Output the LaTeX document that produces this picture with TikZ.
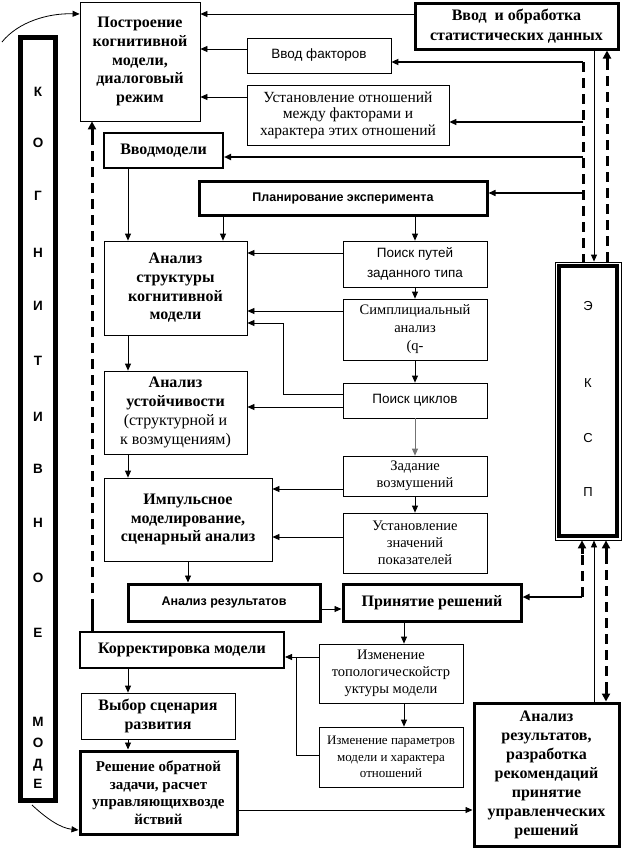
\documentclass[tikz,border=0pt]{standalone}
\usepackage{fontspec}
\setmainfont{Liberation Serif}
\setsansfont{Liberation Sans}
\usetikzlibrary{arrows.meta,calc}
\newcommand{\hbf}{\fontsize{16}{18.7}\selectfont\bfseries}
\newcommand{\hbs}{\fontsize{15}{17.5}\selectfont\bfseries}
\newcommand{\srg}{\fontsize{14.5}{17}\selectfont}
\newcommand{\srs}{\fontsize{13}{16.5}\selectfont}
\newcommand{\sfr}{\fontsize{13.5}{20}\selectfont\sffamily}
\newcommand{\sfb}{\fontsize{12.5}{15}\selectfont\sffamily\bfseries}
\begin{document}
\begin{tikzpicture}[x=1pt,y=-1pt,line width=0.8pt,
  bx/.style n args={2}{draw,line width=0.8pt,align=center,inner sep=0pt,minimum width=#1,minimum height=#2},
  medb/.style={line width=2pt},
  thkb/.style={line width=3pt},
  arr/.style={-{Triangle[length=7pt,width=6pt]}},
  tarr/.style={line width=3pt,-{Triangle[length=8pt,width=8pt]}},
  dsh/.style={line width=3pt,dash pattern=on 10pt off 6pt},
  letl/.style={font=\fontsize{13.5}{13.5}\selectfont\sffamily\bfseries,inner sep=0pt},
  lete/.style={font=\fontsize{13}{13}\selectfont\sffamily,inner sep=0pt}]
\useasboundingbox[fill=white] (0,0) rectangle (622,849);

% nodes
\node[bx={120pt}{119pt},font=\hbf] (bld) at (140,61.5) {Построение\\когнитивной\\модели,\\диалоговый\\режим};
\node[bx={203pt}{46pt},thkb,font=\fontsize{16}{20}\selectfont\bfseries] (stat) at (516.5,26) {Ввод~ и обработка\\статистических данных};
\node[bx={144pt}{35pt},font=\sfr] (fact) at (319,55.5) {Ввод факторов};
\node[bx={202pt}{60pt},font=\fontsize{15.5}{16.5}\selectfont] (rel) at (348,115) {Установление отношений\\между факторами и\\характера этих отношений};
\node[bx={119pt}{35pt},medb,font=\hbf] (vvod) at (163.5,150.5) {Вводмодели};
\node[bx={288pt}{34pt},thkb,font=\sfb] (plan) at (343,198) {Планирование эксперимента};
\node[bx={143pt}{94pt},font=\hbf] (astr) at (175.5,288) {Анализ\\структуры\\когнитивной\\модели};
\node[bx={144pt}{46pt},font=\sfr] (paths) at (415,264) {Поиск путей\\заданного типа};
\node[bx={144pt}{61pt},font=\fontsize{14.5}{18}\selectfont] (simp) at (415,329.5) {Симплициальный\\анализ\\(q-};
\node[bx={144pt}{35pt},font=\sfr] (cyc) at (415,400.5) {Поиск циклов};
\node[bx={143pt}{83pt},font=\fontsize{16}{19}\selectfont] (ust) at (175.5,412.5) {\textbf{Анализ}\\\textbf{устойчивости}\\(структурной и\\к возмущениям)};
\node[bx={144pt}{40pt},font=\srg] (pert) at (415,476) {Задание\\возмушений};
\node[bx={168pt}{83pt},font=\hbf] (imp) at (188,519.5) {Импульсное\\моделирование,\\сценарный анализ};
\node[bx={144pt}{60pt},font=\srg] (vals) at (415,543) {Установление\\значений\\показателей};
\node[bx={192pt}{37pt},thkb,font=\sfb] (ares) at (224,602.5) {Анализ результатов};
\node[bx={178pt}{37pt},thkb,font=\hbf] (dec) at (432,602.5) {Принятие решений};
\node[bx={204pt}{36pt},medb,font=\hbf] (korr) at (182,650) {Корректировка модели};
\node[bx={154pt}{46pt},font=\hbf] (scen) at (158,716) {Выбор сценария\\развития};
\node[bx={157pt}{83pt},thkb,font=\hbs] (inv) at (158.5,792.5) {Решение обратной\\задачи, расчет\\управляющихвозде\\йствий};
\node[bx={144pt}{59pt},font=\srg] (topo) at (391,673.5) {Изменение\\топологическойстр\\уктуры модели};
\node[bx={144pt}{60pt},font=\srs] (par) at (391,757) {Изменение параметров\\модели и характера\\отношений};
\node[bx={145pt}{143pt},thkb,font=\fontsize{16}{19}\selectfont\bfseries] (rec) at (546.5,774.5) {Анализ\\результатов,\\разработка\\рекомендаций\\принятие\\управленческих\\решений};

% left column
\node[draw,line width=5pt,minimum width=35pt,minimum height=763pt,inner sep=0pt] (kog) at (38,418.5) {};
\foreach \l/\y [count=\i] in {К/92,О/143,Г/196,Н/253,И/306,Т/361,И/417,В/469,Н/523,О/578,Е/633,М/722,О/743,Д/765,Е/784}
  \node[letl] (kl\i) at (38,\y) {\l};

% right column
\node[draw,line width=0.8pt,minimum width=66pt,minimum height=278pt,inner sep=0pt] (eksp) at (588,401) {};
\draw[line width=4pt] ([shift={(4.5,4.5)}]eksp.north west) rectangle ([shift={(-4.5,-4.5)}]eksp.south east);
\foreach \l/\y [count=\i] in {Э/306,К/383,С/438,П/492}
  \node[lete] (el\i) at (588,\y) {\l};

% top connectors
\draw[arr] (stat.west |- 0,14) -- (bld.east |- 0,14);
\draw[arr] (fact.west |- 0,49) -- (bld.east |- 0,49);
\draw[arr] (rel.west |- 0,97) -- (bld.east |- 0,97);
\coordinate (b1) at (583,62);
\coordinate (b2) at (583,122);
\coordinate (b3) at (583,157);
\coordinate (b4) at (583,193);
\draw[dsh] (b1) -- (eksp.north -| b1);
\draw[arr,line width=2pt] (b1) -- (fact.east |- b1);
\draw[arr,line width=1.5pt] (b2) -- (rel.east |- b2);
\draw[arr,line width=2pt] (b3) -- (vvod.east |- b3);
\draw[arr,line width=1.5pt] (b4) -- (plan.east |- b4);
\draw[arr] (stat.south -| 594,0) -- (eksp.north -| 594,0);
\draw[dsh] (eksp.north -| 607,0) -- ($(stat.south -| 607,0)+(0,14)$);
\draw[tarr] ($(stat.south -| 607,0)+(0,14)$) -- (stat.south -| 607,0);

% bottom right connectors
\coordinate (c1) at (582,597);
\draw[dsh] (c1) -- ($(eksp.south -| c1)+(0,14)$);
\draw[tarr] ($(eksp.south -| c1)+(0,14)$) -- (eksp.south -| c1);
\draw[arr,line width=2pt] (c1) -- (dec.east |- c1);
\draw[arr] (rec.north -| 594,0) -- (eksp.south -| 594,0);
\draw[dsh] ($(eksp.south -| 606,0)+(0,14)$) -- ($(rec.north -| 606,0)+(0,-14)$);
\draw[tarr] ($(eksp.south -| 606,0)+(0,14)$) -- (eksp.south -| 606,0);
\draw[tarr] ($(rec.north -| 606,0)+(0,-14)$) -- (rec.north -| 606,0);

% curves
\coordinate (ct) at (2,42);
\draw[arr] (ct) .. controls (18,22) and (48,13) .. (bld.west |- 0,14);
\coordinate (cb) at (32,805);
\draw[arr] (cb) .. controls (46,818) and (60,828) .. (inv.west |- 0,830);

% inner connectors
\draw[line width=3pt] (korr.north -| 92,0) -- ($(korr.north -| 92,0)+(0,-22)$);
\draw[dsh] ($(korr.north -| 92,0)+(0,-22)$) -- ($(bld.south -| 92,0)+(0,14)$);
\draw[tarr] ($(bld.south -| 92,0)+(0,14)$) -- (bld.south -| 92,0);
\draw[arr] (vvod.south -| 128,0) -- (astr.north -| 128,0);
\draw[arr] (plan.south -| 223,0) -- (astr.north -| 223,0);
\draw[arr] (plan.south -| paths) -- (paths.north);
\draw[arr] (paths.west |- 0,253) -- (astr.east |- 0,253);
\draw[arr] (simp.west |- 0,311) -- (astr.east |- 0,311);
\draw[arr] (cyc.west |- 0,394) -- (283,394) -- (283,323) -- (astr.east |- 0,323);
\draw[arr] (cyc.west |- 0,407) -- (ust.east |- 0,407);
\draw[arr] (paths.south) -- (simp.north);
\draw[arr] (simp.south) -- (cyc.north);
\draw[arr,draw=black!55] (cyc.south) -- (pert.north);
\draw[arr] (pert.south) -- (vals.north);
\draw[arr] (astr.south -| 128,0) -- (ust.north -| 128,0);
\draw[arr] (ust.south -| 128,0) -- (imp.north -| 128,0);
\draw[arr] (pert.west |- 0,489) -- (imp.east |- 0,489);
\draw[arr] (vals.west |- 0,537) -- (imp.east |- 0,537);
\draw[arr] (imp.south -| 188,0) -- (ares.north -| 188,0);
\draw[arr] (ares.east |- 0,609) -- (dec.west |- 0,609);
\draw[arr] (dec.south -| 404,0) -- (topo.north -| 404,0);
\draw[arr] (topo.west |- 0,657) -- (korr.east |- 0,657);
\draw (par.west |- 0,755) -- (296,755) -- (296,657);
\draw[arr] (topo.south -| 404,0) -- (par.north -| 404,0);
\draw[arr] (korr.south -| 128,0) -- (scen.north -| 128,0);
\draw[arr] (scen.south -| 128,0) -- (inv.north -| 128,0);
\draw[arr] (inv.east |- 0,810) -- (rec.west |- 0,810);
\end{tikzpicture}
\end{document}
